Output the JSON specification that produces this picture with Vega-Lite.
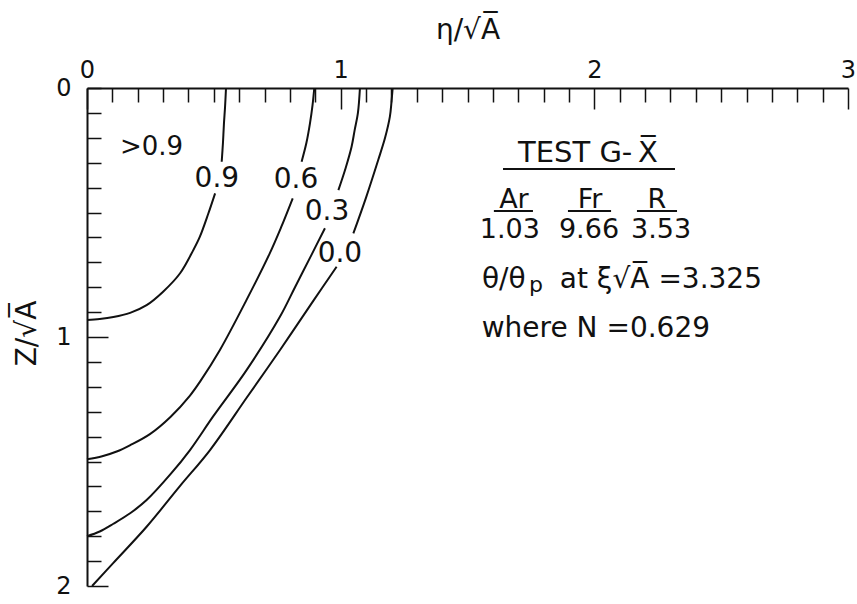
{
  "$schema": "https://vega.github.io/schema/vega-lite/v6.json",
  "width": 761,
  "height": 498,
  "autosize": {"type": "none"},
  "padding": {"left": 87, "top": 88, "right": 9, "bottom": 18},
  "background": "white",
  "config": {
    "view": {"stroke": null},
    "font": "DejaVu Sans",
    "text": {"color": "#111", "font": "DejaVu Sans"},
    "axis": {
      "grid": false,
      "domainColor": "#111",
      "domainWidth": 2,
      "tickColor": "#111",
      "tickWidth": 1.5,
      "labelFont": "DejaVu Sans",
      "labelFontSize": 24,
      "labelColor": "#111",
      "labelFlush": false,
      "labelOverlap": false,
      "titleFont": "DejaVu Sans",
      "titleFontSize": 28,
      "titleFontWeight": "normal",
      "titleColor": "#111"
    }
  },
  "datasets": {
    "curves": [
      {"seg": "0.9a", "eta": 0.548, "z": 0},
      {"seg": "0.9a", "eta": 0.544, "z": 0.08},
      {"seg": "0.9a", "eta": 0.54, "z": 0.14},
      {"seg": "0.9a", "eta": 0.536, "z": 0.22},
      {"seg": "0.9a", "eta": 0.531, "z": 0.296},
      {"seg": "0.9b", "eta": 0.505, "z": 0.423},
      {"seg": "0.9b", "eta": 0.478, "z": 0.505},
      {"seg": "0.9b", "eta": 0.445, "z": 0.597},
      {"seg": "0.9b", "eta": 0.419, "z": 0.651},
      {"seg": "0.9b", "eta": 0.367, "z": 0.744},
      {"seg": "0.9b", "eta": 0.3, "z": 0.818},
      {"seg": "0.9b", "eta": 0.235, "z": 0.872},
      {"seg": "0.9b", "eta": 0.17, "z": 0.903},
      {"seg": "0.9b", "eta": 0.104, "z": 0.92},
      {"seg": "0.9b", "eta": 0.05, "z": 0.928},
      {"seg": "0.9b", "eta": 0, "z": 0.932},
      {"seg": "0.6a", "eta": 0.896, "z": 0},
      {"seg": "0.6a", "eta": 0.889, "z": 0.07},
      {"seg": "0.6a", "eta": 0.879, "z": 0.142},
      {"seg": "0.6a", "eta": 0.865, "z": 0.22},
      {"seg": "0.6a", "eta": 0.846, "z": 0.296},
      {"seg": "0.6b", "eta": 0.811, "z": 0.443},
      {"seg": "0.6b", "eta": 0.765, "z": 0.56},
      {"seg": "0.6b", "eta": 0.72, "z": 0.665},
      {"seg": "0.6b", "eta": 0.629, "z": 0.851},
      {"seg": "0.6b", "eta": 0.524, "z": 1.052},
      {"seg": "0.6b", "eta": 0.445, "z": 1.18},
      {"seg": "0.6b", "eta": 0.406, "z": 1.235},
      {"seg": "0.6b", "eta": 0.33, "z": 1.32},
      {"seg": "0.6b", "eta": 0.248, "z": 1.39},
      {"seg": "0.6b", "eta": 0.169, "z": 1.435},
      {"seg": "0.6b", "eta": 0.117, "z": 1.46},
      {"seg": "0.6b", "eta": 0.06, "z": 1.479},
      {"seg": "0.6b", "eta": 0, "z": 1.491},
      {"seg": "0.3a", "eta": 1.076, "z": 0},
      {"seg": "0.3a", "eta": 1.068, "z": 0.1},
      {"seg": "0.3a", "eta": 1.055, "z": 0.17},
      {"seg": "0.3a", "eta": 1.043, "z": 0.236},
      {"seg": "0.3a", "eta": 1.02, "z": 0.32},
      {"seg": "0.3a", "eta": 0.991, "z": 0.41},
      {"seg": "0.3b", "eta": 0.938, "z": 0.563},
      {"seg": "0.3b", "eta": 0.885, "z": 0.67},
      {"seg": "0.3b", "eta": 0.82, "z": 0.8},
      {"seg": "0.3b", "eta": 0.761, "z": 0.918},
      {"seg": "0.3b", "eta": 0.629, "z": 1.133},
      {"seg": "0.3b", "eta": 0.498, "z": 1.318},
      {"seg": "0.3b", "eta": 0.406, "z": 1.454},
      {"seg": "0.3b", "eta": 0.33, "z": 1.55},
      {"seg": "0.3b", "eta": 0.235, "z": 1.655},
      {"seg": "0.3b", "eta": 0.17, "z": 1.708},
      {"seg": "0.3b", "eta": 0.104, "z": 1.75},
      {"seg": "0.3b", "eta": 0.05, "z": 1.781},
      {"seg": "0.3b", "eta": 0, "z": 1.8},
      {"seg": "0.0a", "eta": 1.205, "z": 0},
      {"seg": "0.0a", "eta": 1.2, "z": 0.06},
      {"seg": "0.0a", "eta": 1.194, "z": 0.115},
      {"seg": "0.0a", "eta": 1.175, "z": 0.2},
      {"seg": "0.0a", "eta": 1.148, "z": 0.289},
      {"seg": "0.0a", "eta": 1.1, "z": 0.44},
      {"seg": "0.0a", "eta": 1.05, "z": 0.584},
      {"seg": "0.0b", "eta": 0.984, "z": 0.718},
      {"seg": "0.0b", "eta": 0.892, "z": 0.855},
      {"seg": "0.0b", "eta": 0.761, "z": 1.052},
      {"seg": "0.0b", "eta": 0.63, "z": 1.243},
      {"seg": "0.0b", "eta": 0.485, "z": 1.454},
      {"seg": "0.0b", "eta": 0.367, "z": 1.598},
      {"seg": "0.0b", "eta": 0.235, "z": 1.762},
      {"seg": "0.0b", "eta": 0.104, "z": 1.907},
      {"seg": "0.0b", "eta": 0.02, "z": 2.0}
    ],
    "contourLabels": [
      {"t": "0.9", "eta": 0.512, "z": 0.398},
      {"t": "0.6", "eta": 0.824, "z": 0.402},
      {"t": "0.3", "eta": 0.946, "z": 0.53},
      {"t": "0.0", "eta": 0.997, "z": 0.699}
    ],
    "regionLabel": [
      {"t": ">0.9", "eta": 0.13, "z": 0.269}
    ],
    "heading": [
      {"t": "TEST  G-\u2009X̅", "eta": 1.975, "z": 0.297}
    ],
    "centered": [
      {"t": "Ar", "eta": 1.683, "z": 0.482},
      {"t": "Fr", "eta": 1.983, "z": 0.482},
      {"t": "R", "eta": 2.247, "z": 0.482},
      {"t": "1.03", "eta": 1.667, "z": 0.602},
      {"t": "9.66", "eta": 1.979, "z": 0.602},
      {"t": "3.53", "eta": 2.263, "z": 0.602}
    ],
    "leftText": [
      {"t": "θ/θ", "eta": 1.557, "z": 0.803},
      {"t": "at ξ√A̅ =3.325", "eta": 1.864, "z": 0.803},
      {"t": "where N =0.629", "eta": 1.556, "z": 0.999}
    ],
    "subscript": [
      {"t": "p", "eta": 1.742, "z": 0.82}
    ],
    "underlines": [
      {"eta": 1.64, "eta2": 2.318, "z": 0.325},
      {"eta": 1.604, "eta2": 1.758, "z": 0.494},
      {"eta": 1.896, "eta2": 2.066, "z": 0.494},
      {"eta": 2.168, "eta2": 2.326, "z": 0.494}
    ]
  },
  "resolve": {"axis": {"x": "independent", "y": "independent"}},
  "layer": [
    {
      "data": {"name": "curves"},
      "mark": {"type": "line", "color": "#111", "strokeWidth": 2, "interpolate": "catmull-rom"},
      "encoding": {
        "x": {
          "field": "eta",
          "type": "quantitative",
          "scale": {"domain": [0, 3], "nice": false, "zero": false},
          "axis": {
            "orient": "top",
            "title": "η/√A̅",
            "values": [0, 1, 2, 3],
            "tickCount": 100,
            "format": "d",
            "domain": true,
            "tickSize": -21,
            "labelPadding": 27,
            "labelOverlap": false,
            "titleBaseline": "middle",
            "titleY": -58
          }
        },
        "y": {
          "field": "z",
          "type": "quantitative",
          "scale": {"domain": [0, 2], "reverse": true, "nice": false, "zero": false},
          "axis": {
            "orient": "left",
            "title": null,
            "values": [1, 2],
            "format": "d",
            "domain": true,
            "tickSize": -21,
            "labelPadding": 37,
            "labelOverlap": false
          }
        },
        "detail": {"field": "seg"},
        "order": {"field": "z", "type": "quantitative"}
      }
    },
    {
      "data": {"name": "contourLabels"},
      "mark": {"type": "text", "fontSize": 28, "align": "center", "baseline": "alphabetic"},
      "encoding": {
        "x": {
          "field": "eta",
          "type": "quantitative",
          "axis": {
            "orient": "top",
            "title": null,
            "values": [0.1, 0.2, 0.3, 0.4, 0.5, 0.6, 0.7, 0.8, 0.9, 1.1, 1.2, 1.3, 1.4, 1.5, 1.6, 1.7, 1.8, 1.9, 2.1, 2.2, 2.3, 2.4, 2.5, 2.6, 2.7, 2.8, 2.9],
            "tickCount": 100,
            "labels": false,
            "domain": false,
            "tickSize": -14
          }
        },
        "y": {
          "field": "z",
          "type": "quantitative",
          "axis": {
            "orient": "left",
            "title": "Z/√A̅",
            "values": [0, 0.1, 0.2, 0.3, 0.4, 0.5, 0.6, 0.7, 0.8, 0.9, 1.1, 1.2, 1.3, 1.4, 1.5, 1.6, 1.7, 1.8, 1.9],
            "tickCount": 100,
            "labelExpr": "datum.value === 0 ? '0' : ''",
            "labelPadding": 30,
            "domain": false,
            "tickSize": -14,
            "titleAngle": -90,
            "titleBaseline": "middle",
            "titleX": -60,
            "titleY": 245
          }
        },
        "text": {"field": "t"}
      }
    },
    {
      "data": {"name": "regionLabel"},
      "mark": {"type": "text", "fontSize": 26, "align": "left", "baseline": "alphabetic"},
      "encoding": {
        "x": {"field": "eta", "type": "quantitative", "axis": null},
        "y": {"field": "z", "type": "quantitative", "axis": null},
        "text": {"field": "t"}
      }
    },
    {
      "data": {"name": "heading"},
      "mark": {"type": "text", "fontSize": 29, "align": "center", "baseline": "alphabetic"},
      "encoding": {
        "x": {"field": "eta", "type": "quantitative", "axis": null},
        "y": {"field": "z", "type": "quantitative", "axis": null},
        "text": {"field": "t"}
      }
    },
    {
      "data": {"name": "centered"},
      "mark": {"type": "text", "fontSize": 27, "align": "center", "baseline": "alphabetic"},
      "encoding": {
        "x": {"field": "eta", "type": "quantitative", "axis": null},
        "y": {"field": "z", "type": "quantitative", "axis": null},
        "text": {"field": "t"}
      }
    },
    {
      "data": {"name": "leftText"},
      "mark": {"type": "text", "fontSize": 28, "align": "left", "baseline": "alphabetic"},
      "encoding": {
        "x": {"field": "eta", "type": "quantitative", "axis": null},
        "y": {"field": "z", "type": "quantitative", "axis": null},
        "text": {"field": "t"}
      }
    },
    {
      "data": {"name": "subscript"},
      "mark": {"type": "text", "fontSize": 22, "align": "left", "baseline": "alphabetic"},
      "encoding": {
        "x": {"field": "eta", "type": "quantitative", "axis": null},
        "y": {"field": "z", "type": "quantitative", "axis": null},
        "text": {"field": "t"}
      }
    },
    {
      "data": {"name": "underlines"},
      "mark": {"type": "rule", "color": "#111", "strokeWidth": 2},
      "encoding": {
        "x": {"field": "eta", "type": "quantitative", "axis": null},
        "x2": {"field": "eta2"},
        "y": {"field": "z", "type": "quantitative", "axis": null}
      }
    }
  ]
}
